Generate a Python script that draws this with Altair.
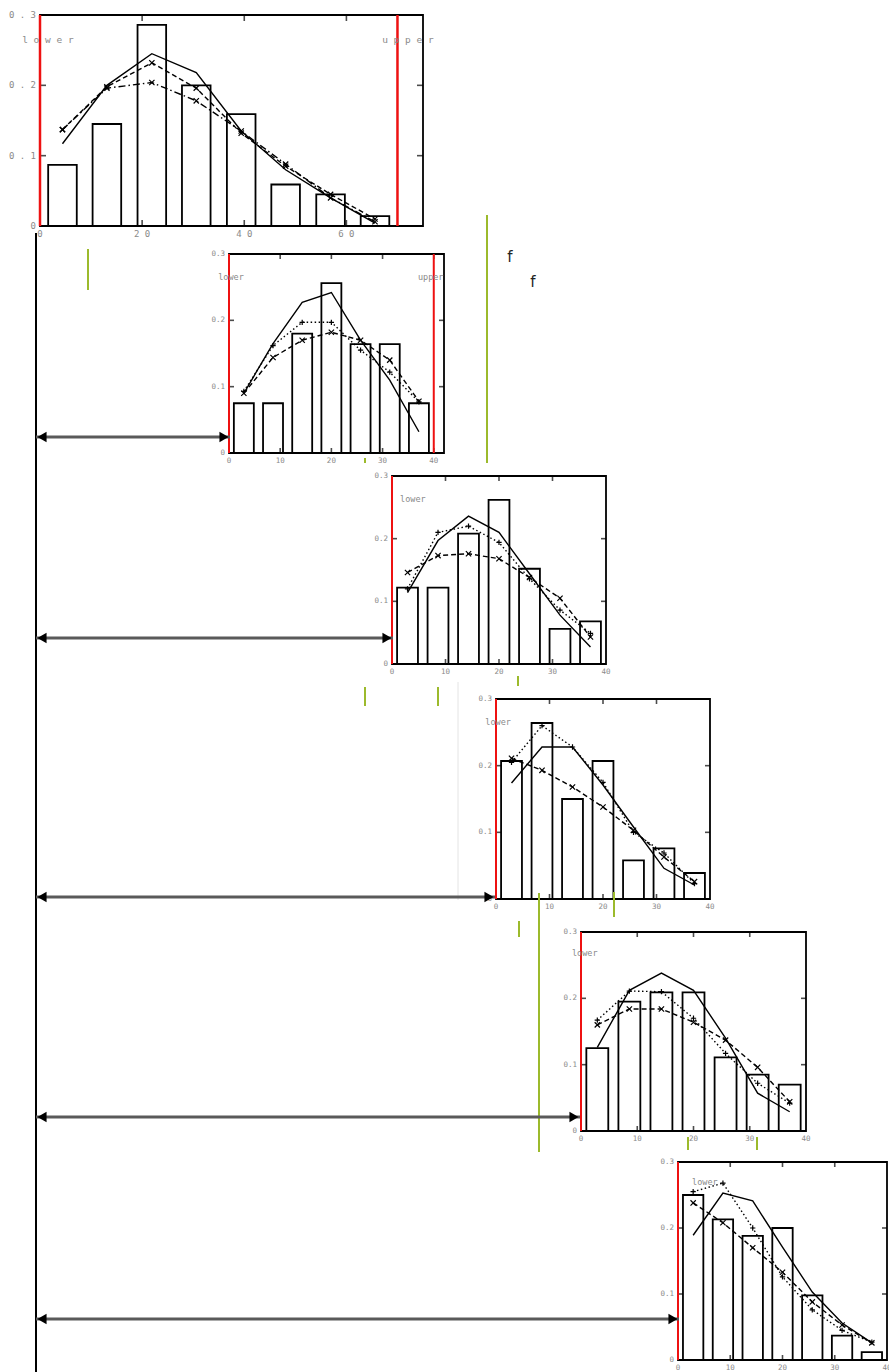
import altair as alt
import pandas as pd

# ---------------- data ----------------
# first panel: 8 bins on 0..70
p1_bins = [4.4, 13.1, 21.9, 30.6, 39.4, 48.1, 56.9, 65.6]
p1_hist = [0.087, 0.145, 0.286, 0.200, 0.159, 0.059, 0.045, 0.014]
p1_solid = [0.117, 0.200, 0.245, 0.218, 0.135, 0.080, 0.040, 0.004]
p1_dashed = [0.137, 0.198, 0.232, 0.196, 0.132, 0.085, 0.045, 0.010]
p1_dashdot = [0.137, 0.196, 0.204, 0.178, 0.135, 0.088, 0.040, 0.006]

# later panels: 7 bins on 0..40
bins7 = [2.9, 8.6, 14.3, 20.0, 25.7, 31.4, 37.1]

p2_hist = [0.075, 0.075, 0.180, 0.256, 0.164, 0.164, 0.075]
p2_solid = [0.090, 0.165, 0.227, 0.242, 0.170, 0.110, 0.032]
p2_dotted = [0.093, 0.162, 0.197, 0.197, 0.155, 0.122, 0.077]
p2_dashed = [0.090, 0.144, 0.170, 0.182, 0.170, 0.140, 0.078]

p3_hist = [0.122, 0.122, 0.208, 0.262, 0.152, 0.056, 0.068]
p3_solid = [0.114, 0.197, 0.236, 0.210, 0.144, 0.078, 0.027]
p3_dotted = [0.120, 0.210, 0.220, 0.194, 0.136, 0.086, 0.049]
p3_dashed = [0.146, 0.173, 0.176, 0.168, 0.138, 0.105, 0.043]

p4_hist = [0.207, 0.264, 0.150, 0.207, 0.058, 0.076, 0.039]
p4_solid = [0.174, 0.228, 0.228, 0.171, 0.108, 0.046, 0.021]
p4_dotted = [0.205, 0.260, 0.228, 0.175, 0.100, 0.069, 0.023]
p4_dashed = [0.211, 0.193, 0.168, 0.138, 0.103, 0.063, 0.026]

p5_hist = [0.125, 0.195, 0.209, 0.209, 0.111, 0.085, 0.070]
p5_solid = [0.126, 0.212, 0.238, 0.212, 0.140, 0.057, 0.029]
p5_dotted = [0.167, 0.211, 0.210, 0.170, 0.117, 0.072, 0.042]
p5_dashed = [0.160, 0.184, 0.184, 0.164, 0.137, 0.096, 0.044]

p6_hist = [0.250, 0.213, 0.188, 0.200, 0.098, 0.037, 0.012]
p6_solid = [0.189, 0.253, 0.241, 0.171, 0.103, 0.056, 0.026]
p6_dotted = [0.255, 0.268, 0.200, 0.126, 0.076, 0.045, 0.027]
p6_dashed = [0.238, 0.208, 0.170, 0.133, 0.088, 0.053, 0.026]

# tick values and their labels
p1_xticks = [0, 20, 40, 60]
p1_xlabels = ["0", "2 0", "4 0", "6 0"]
p1_ylabels = ["0", "0 . 1", "0 . 2", "0 . 3"]
xticks7 = [0, 10, 20, 30, 40]
xlabels7 = ["0", "10", "20", "30", "40"]
yticks = [0, 0.1, 0.2, 0.3]
ylabels7 = ["0", "0.1", "0.2", "0.3"]

# annotation layer (page pixel units)
spine_x = 36
spine_y = [233, 1372]
arrow_y = [437, 638, 897, 1117, 1319]
arrow_tip = [230, 393, 495, 580, 679]
green_x = [88, 487, 365, 518, 365, 438, 539, 614, 519, 688, 757]
green_y1 = [249, 215, 458, 676, 687, 687, 893, 892, 921, 1137, 1137]
green_y2 = [290, 463, 463, 686, 706, 706, 1152, 917, 937, 1150, 1150]
note_x = [510, 533]
note_y = [257, 282]
note_text = ["f", "f"]

# ---------------- styles ----------------
LABEL_FONT = "DejaVu Sans Mono"
LABEL_COLOR = "#8a8a8a"
X_SHAPE = "M-1,-1L1,1M-1,1L1,-1"
PLUS_SHAPE = "M-1,0L1,0M0,-1L0,1"
GREEN = "#9cba2c"


def panel(cfg):
    xs = alt.Scale(domain=cfg["xdom"], range=cfg["xpx"], nice=False, zero=False)
    ys = alt.Scale(domain=[0, 0.3], range=cfg["ypx"], nice=False, zero=False)

    def X(f):
        return alt.X(f, type="quantitative", scale=xs, axis=None)

    def Y(f):
        return alt.Y(f, type="quantitative", scale=ys, axis=None)

    x0, x1 = cfg["xdom"]
    frame_df = pd.DataFrame({"a": [x0], "b": [x1], "lo": [0.0], "hi": [0.3]})
    frame = alt.Chart(frame_df).mark_rect(
        fillOpacity=0, stroke="black", strokeWidth=1.8
    ).encode(x=X("a"), x2="b", y=Y("lo"), y2="hi")

    w = cfg["barw"]
    bar_df = pd.DataFrame({"c": cfg["bins"], "h": cfg["hist"]})
    bars = alt.Chart(bar_df).transform_calculate(
        l=f"datum.c - {w / 2}", r=f"datum.c + {w / 2}", z="0"
    ).mark_rect(fill="white", stroke="black", strokeWidth=1.8).encode(
        x=X("l:Q"), x2="r:Q", y=Y("h:Q"), y2="z:Q"
    )

    # inward ticks on all four sides
    inner_x = [t for t in cfg["xticks"] if x0 < t < x1]
    inner_y = [0.1, 0.2]
    tx = pd.DataFrame({"t": inner_x, "b": 0.0, "top": 0.3})
    ty = pd.DataFrame({"t": inner_y, "l": float(x0), "r": float(x1)})
    tl = cfg["ticklen"]
    ticks = [
        alt.Chart(tx).mark_tick(orient="vertical", size=tl, thickness=1.6,
                                color="black", yOffset=-tl / 2).encode(x=X("t"), y=Y("b")),
        alt.Chart(tx).mark_tick(orient="vertical", size=tl, thickness=1.6,
                                color="black", yOffset=tl / 2).encode(x=X("t"), y=Y("top")),
        alt.Chart(ty).mark_tick(orient="horizontal", size=tl, thickness=1.6,
                                color="black", xOffset=tl / 2).encode(x=X("l"), y=Y("t")),
        alt.Chart(ty).mark_tick(orient="horizontal", size=tl, thickness=1.6,
                                color="black", xOffset=-tl / 2).encode(x=X("r"), y=Y("t")),
    ]

    fs = cfg["fontsize"]
    xl = pd.DataFrame({"t": cfg["xticks"], "s": cfg["xlabels"], "b": 0.0})
    yl = pd.DataFrame({"t": yticks, "s": cfg["ylabels"], "l": float(x0)})
    labels = [
        alt.Chart(xl).mark_text(font=LABEL_FONT, fontSize=fs, color=LABEL_COLOR,
                                baseline="top", align="center", dy=4).encode(
            x=X("t"), y=Y("b"), text="s:N"),
        alt.Chart(yl).mark_text(font=LABEL_FONT, fontSize=fs, color=LABEL_COLOR,
                                baseline="middle", align="right", dx=-4).encode(
            x=X("l"), y=Y("t"), text="s:N"),
    ]

    limits = [alt.Chart(pd.DataFrame({"v": [v], "lo": [0.0], "hi": [0.3]})).mark_rule(
        color="#ee1111", strokeWidth=cfg["redw"]).encode(x=X("v"), y=Y("lo"), y2="hi")
        for v in cfg["limits"]]

    tags = [alt.Chart(pd.DataFrame({"x": [tx_], "y": [ty_], "s": [txt]})).mark_text(
        font=LABEL_FONT, fontSize=cfg["tagsize"], color=LABEL_COLOR,
        align="left", baseline="middle").encode(x=X("x"), y=Y("y"), text="s:N")
        for tx_, ty_, txt in cfg["tags"]]

    curves = []
    for vals, dash, marker in cfg["series"]:
        df = pd.DataFrame({"x": cfg["bins"], "y": vals})
        line_kw = dict(color="black", strokeWidth=1.4)
        if dash:
            line_kw["strokeDash"] = dash
        curves.append(alt.Chart(df).mark_line(**line_kw).encode(x=X("x"), y=Y("y")))
        if marker:
            curves.append(alt.Chart(df).mark_point(
                shape=marker, filled=False, stroke="black", strokeWidth=1.2,
                size=28, opacity=1).encode(x=X("x"), y=Y("y")))

    return alt.layer(bars, frame, *ticks, *labels, *limits, *curves, *tags)


DASH = [5, 3]
DOT = [1.5, 2.5]
DASHDOT = [7, 3, 1.5, 3]


def later(xdom, xpx, ypx, hist, solid, dotted, dashed, limits, tags):
    return dict(
        xdom=xdom, xpx=xpx, ypx=ypx, bins=bins7, hist=hist, barw=3.9,
        xticks=xticks7, xlabels=xlabels7, ylabels=ylabels7,
        fontsize=7.5, tagsize=8.5, ticklen=5, redw=2, limits=limits, tags=tags,
        series=[(solid, None, None), (dotted, DOT, PLUS_SHAPE), (dashed, DASH, X_SHAPE)],
    )


panels = [
    dict(xdom=[0, 75], xpx=[40, 423], ypx=[226, 15], bins=p1_bins, hist=p1_hist, barw=5.6,
         xticks=p1_xticks, xlabels=p1_xlabels, ylabels=p1_ylabels,
         fontsize=9, tagsize=9.5, ticklen=6, redw=2.5, limits=[0, 70],
         tags=[(-3.5, 0.265, "l o w e r"), (67.0, 0.265, "u p p e r")],
         series=[(p1_solid, None, None), (p1_dashed, DASH, X_SHAPE),
                 (p1_dashdot, DASHDOT, X_SHAPE)]),
    later([0, 42], [229, 444], [453, 254], p2_hist, p2_solid, p2_dotted, p2_dashed,
          [0, 40], [(-2.1, 0.266, "lower"), (36.9, 0.266, "upper")]),
    later([0, 40], [392, 606], [664, 476], p3_hist, p3_solid, p3_dotted, p3_dashed,
          [0], [(1.5, 0.263, "lower")]),
    later([0, 40], [496, 710], [899, 699], p4_hist, p4_solid, p4_dotted, p4_dashed,
          [0], [(-2.0, 0.265, "lower")]),
    later([0, 40], [581, 806], [1131, 932], p5_hist, p5_solid, p5_dotted, p5_dashed,
          [0], [(-1.6, 0.268, "lower")]),
    later([0, 40], [678, 887], [1360, 1162], p6_hist, p6_solid, p6_dotted, p6_dashed,
          [0], [(2.7, 0.270, "lower")]),
]

# ---------------- annotation layer ----------------
cx = alt.Scale(domain=[0, 889], range=[0, 889], nice=False, zero=False)
cy = alt.Scale(domain=[0, 1372], range=[0, 1372], nice=False, zero=False)


def CX(f):
    return alt.X(f, type="quantitative", scale=cx, axis=None)


def CY(f):
    return alt.Y(f, type="quantitative", scale=cy, axis=None)


spine = alt.Chart(pd.DataFrame({"x": [spine_x], "a": [spine_y[0]], "b": [spine_y[1]]})).mark_rule(
    color="black", strokeWidth=2).encode(x=CX("x"), y=CY("a"), y2="b")

arr_df = pd.DataFrame({"x0": [spine_x] * len(arrow_y), "x1": arrow_tip, "y": arrow_y})
shaft = alt.Chart(arr_df).mark_rule(color="#5a5a5a", strokeWidth=3).encode(
    x=CX("x0"), x2="x1", y=CY("y"))
head_l = alt.Chart(arr_df).mark_point(shape="triangle-left", filled=True, color="black",
                                      size=110, opacity=1, xOffset=6).encode(x=CX("x0"), y=CY("y"))
head_r = alt.Chart(arr_df).mark_point(shape="triangle-right", filled=True, color="black",
                                      size=110, opacity=1, xOffset=-6).encode(x=CX("x1"), y=CY("y"))

green = alt.Chart(pd.DataFrame({"x": green_x, "a": green_y1, "b": green_y2})).mark_rule(
    color=GREEN, strokeWidth=2).encode(x=CX("x"), y=CY("a"), y2="b")

faint = alt.Chart(pd.DataFrame({"x": [458], "a": [682], "b": [900]})).mark_rule(
    color="#e4e4e4", strokeWidth=1).encode(x=CX("x"), y=CY("a"), y2="b")

notes = alt.Chart(pd.DataFrame({"x": note_x, "y": note_y, "s": note_text})).mark_text(
    font="DejaVu Sans", fontSize=15, color="#222222", align="center", baseline="middle").encode(
    x=CX("x"), y=CY("y"), text="s:N")

overlay = alt.layer(faint, spine, green, shaft, head_l, head_r, notes)

chart = alt.layer(*[panel(c) for c in panels], overlay).resolve_scale(
    x="independent", y="independent"
).properties(
    width=889, height=1372, padding=0,
    autosize=alt.AutoSizeParams(type="none"),
    background="white",
).configure_view(stroke=None)

chart.save("out.html", embed_options={"renderer": "svg", "actions": False})
